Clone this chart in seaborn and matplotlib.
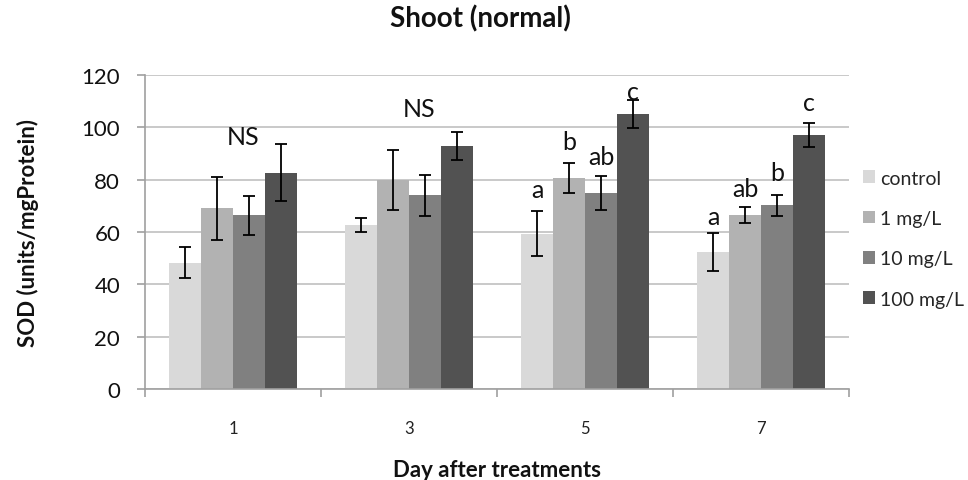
import matplotlib
matplotlib.use("Agg")
import matplotlib.pyplot as plt
import seaborn as sns
import pandas as pd
import numpy as np
from matplotlib.ticker import FixedLocator

days = ["1", "3", "5", "7"]
treatments = ["control", "1 mg/L", "10 mg/L", "100 mg/L"]
means = {
    "control":  [48.3, 62.7, 59.4, 52.5],
    "1 mg/L":   [69.0, 79.9, 80.5, 66.5],
    "10 mg/L":  [66.4, 74.0, 75.0, 70.2],
    "100 mg/L": [82.7, 92.9, 105.0, 97.0],
}
errors = {
    "control":  [5.9, 2.6, 8.6, 7.2],
    "1 mg/L":   [12.1, 11.6, 5.7, 3.2],
    "10 mg/L":  [7.5, 7.8, 6.6, 4.0],
    "100 mg/L": [10.8, 5.3, 5.4, 4.5],
}
letters = {
    "control":  ["", "", "a", "a"],
    "1 mg/L":   ["", "", "b", "ab"],
    "10 mg/L":  ["", "", "ab", "b"],
    "100 mg/L": ["", "", "c", "c"],
}
letter_y = {
    "control":  [0, 0, 73.4, 62.9],
    "1 mg/L":   [0, 0, 91.6, 73.8],
    "10 mg/L":  [0, 0, 85.9, 79.9],
    "100 mg/L": [0, 0, 111.0, 106.6],
}
ns_labels = ["NS", "NS", "", ""]
ns_y = [93.5, 104.2, 0, 0]
colors = ["#d9d9d9", "#b2b2b2", "#808080", "#525252"]

rows = []
for t in treatments:
    for i, d in enumerate(days):
        rows.append({"Day": d, "Treatment": t, "SOD": means[t][i]})
df = pd.DataFrame(rows)

sns.set_style("white")
plt.rcParams["font.family"] = ["Lato", "DejaVu Sans"]

fig = plt.figure(figsize=(9.68, 4.81), dpi=100)
ax = fig.add_axes([0.150, 0.189, 0.727, 0.653])

sns.barplot(data=df, x="Day", y="SOD", hue="Treatment", order=days,
            hue_order=treatments, palette=colors, errorbar=None,
            width=0.727, gap=0, saturation=1, ax=ax, edgecolor="none")

for t, cont in zip(treatments, ax.containers):
    xs = [p.get_x() + p.get_width() / 2 for p in cont.patches]
    ax.errorbar(xs, means[t], yerr=errors[t], fmt="none", ecolor="black",
                elinewidth=1.3, capsize=4.3, capthick=1.3, zorder=4)
    for x, ly, lab in zip(xs, letter_y[t], letters[t]):
        if lab:
            ax.text(x, ly, lab, ha="center", va="baseline",
                    fontsize=18, color="#111111", zorder=5)

for i, (lab, v) in enumerate(zip(ns_labels, ns_y)):
    if lab:
        ax.text(i + 0.058, v, lab, ha="center", va="baseline",
                fontsize=18, color="#111111")

ax.set_ylim(0, 120)
ax.set_xlim(-0.5, 3.5)
ax.set_yticks(np.arange(0, 121, 20))
ax.yaxis.grid(True, color="#c0c0c0", linewidth=1.2)
ax.set_axisbelow(True)
for s in ["top", "right"]:
    ax.spines[s].set_visible(False)
ax.spines["left"].set_color("#a0a0a0")
ax.spines["bottom"].set_color("#a0a0a0")
ax.spines["left"].set_linewidth(1.2)
ax.spines["bottom"].set_linewidth(1.2)
ax.tick_params(axis="y", length=6, width=1.2, color="#a0a0a0", labelsize=16,
               pad=12, left=True, direction="out", labelcolor="#111111")
ax.tick_params(axis="x", which="major", length=0, labelsize=12, pad=22,
               labelcolor="#222222")
ax.xaxis.set_minor_locator(FixedLocator([-0.5, 0.5, 1.5, 2.5, 3.5]))
ax.tick_params(axis="x", which="minor", length=6, width=1.2, color="#a0a0a0",
               bottom=True, direction="out")

ax.set_xlabel("Day after treatments", fontsize=16, fontweight="bold",
              color="#111111")
ax.xaxis.set_label_coords(0.5, -0.255)
ax.xaxis.label.set_va("center")
ax.set_ylabel("SOD (units/mgProtein)", fontsize=16, fontweight="bold",
              color="#111111")
ax.yaxis.set_label_coords(-0.166, 0.5)
ax.yaxis.label.set_va("center")
ax.set_title("Shoot (normal)", fontsize=20, fontweight="bold",
             x=0.477, y=1.156, va="center", color="#111111")

leg = ax.legend(loc="center left", bbox_to_anchor=(1.020, 0.479), frameon=False,
                fontsize=14, handlelength=0.62, handleheight=0.62,
                handletextpad=0.27, labelspacing=1.2, borderpad=0,
                borderaxespad=0)

fig.savefig("out.png", dpi=100)
